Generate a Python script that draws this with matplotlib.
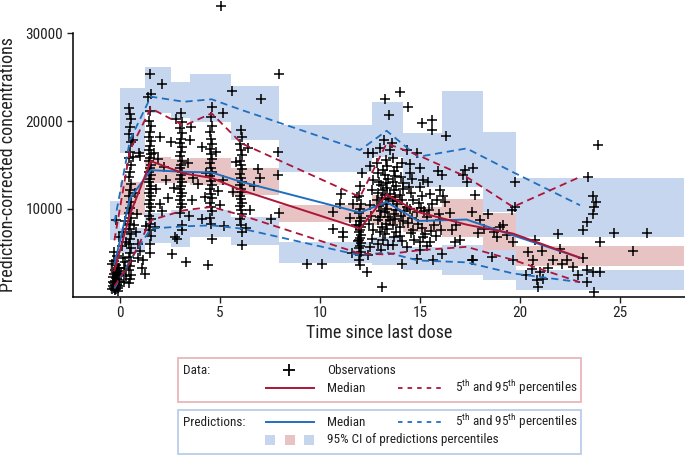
import matplotlib
matplotlib.use("Agg")
import matplotlib.pyplot as plt
import matplotlib.font_manager as fm
from matplotlib.lines import Line2D
from matplotlib.patches import Rectangle

# ---------------- fonts ----------------
_names = {f.name for f in fm.fontManager.ttflist}
FAM = "DejaVu Sans"
for cand in ["Liberation Sans Narrow", "Arial Narrow", "Roboto Condensed", "Liberation Sans", "Roboto"]:
    if cand in _names:
        FAM = cand
        break
plt.rcParams["font.family"] = [FAM, "DejaVu Sans"]
plt.rcParams["mathtext.fontset"] = "custom"
plt.rcParams["mathtext.rm"] = FAM
plt.rcParams["mathtext.it"] = FAM

# ---------------- data ----------------
bin_edges = [-0.5, 0.0, 1.25, 2.55, 3.5, 5.55, 7.95, 12.6, 14.15, 16.1, 18.15, 19.8, 28.2]
bin_times = [-0.28, 0.5, 1.54, 3.2, 4.58, 6.08, 12.0, 13.33, 14.9, 17.33, 19.65, 23.0]

obs_median = [2970, 9370, 15430, 14020, 13520, 12110, 7740, 11620, 9630, 8190, 7170, 4420]
obs_p95 = [6400, 16690, 21450, 19460, 20880, 17450, 11350, 17450, 16110, 13630, 10210, 13630]
obs_p05 = [1140, 3890, 8690, 9830, 10210, 9260, 4880, 4800, 5260, 5660, 4170, 1630]

pred_median = [3660, 11200, 14400, 14210, 14140, 13060, 9570, 10780, 8610, 8770, 6970, 4420]
pred_p95 = [8460, 17830, 22780, 22200, 22480, 21260, 16690, 18890, 15920, 16880, 14170, 10400]
pred_p05 = [910, 4110, 7740, 8000, 8110, 7740, 4690, 5030, 4110, 3890, 2630, 1630]

p95_ci_lo = [6400, 16340, 20910, 20300, 19920, 17830, 14170, 15890, 12490, 12490, 9630, 6780]
p95_ci_hi = [10830, 23770, 26170, 24460, 25370, 24000, 19540, 22140, 18590, 23430, 18780, 13540]
med_ci_lo = [2300, 9260, 12910, 12910, 12690, 11540, 8490, 8110, 7310, 6780, 5260, 3460]
med_ci_hi = [4000, 13030, 15890, 15660, 15740, 14590, 10400, 11540, 10170, 11170, 9490, 5750]
p05_ci_lo = [400, 4910, 6060, 5630, 6780, 5830, 3770, 3540, 2970, 2400, 1830, 770]
p05_ci_hi = [1900, 7770, 9540, 9830, 9830, 9060, 6170, 6740, 5630, 5830, 5260, 2970]

obs_predose = [(-0.4, 800), (-0.35, 1200), (-0.3, 1000), (-0.3, 1500), (-0.25, 900), (-0.25, 1800),
               (-0.2, 1100), (-0.2, 2100), (-0.15, 1300), (-0.15, 2500), (-0.1, 1600), (-0.1, 2900),
               (-0.05, 1900), (-0.05, 3300), (-0.35, 2200), (-0.3, 2600), (-0.25, 3000), (-0.2, 3600),
               (-0.15, 1400), (-0.1, 1000), (-0.4, 3700), (-0.3, 4100), (-0.2, 900), (-0.1, 1200),
               (-0.25, 700), (-0.15, 2000), (-0.05, 2400), (-0.3, 5100), (-0.2, 2800), (-0.1, 3200),
               (-0.35, 1700), (-0.25, 1300), (-0.15, 4600), (-0.05, 6800), (-0.2, 8700), (-0.1, 600)]

obs_absorption = [(0.45, 21500), (0.5, 20800), (0.55, 20200), (0.5, 19300), (0.45, 18500), (0.55, 17600),
                  (0.5, 16500), (0.45, 15800), (0.55, 15000), (0.5, 14200), (0.45, 13600), (0.55, 12800),
                  (0.5, 12100), (0.45, 11400), (0.55, 10800), (0.5, 10100), (0.45, 9500), (0.55, 8900),
                  (0.5, 8300), (0.45, 7700), (0.55, 7100), (0.5, 6600), (0.45, 6000), (0.55, 5500),
                  (0.5, 5000), (0.45, 4500), (0.55, 4000), (0.5, 3500), (0.45, 3000), (0.55, 2500),
                  (0.5, 2000), (0.45, 1500),
                  (0.1, 5800), (0.15, 4400), (0.2, 3200), (0.25, 8600), (0.3, 6200), (0.05, 2600),
                  (0.2, 1700), (0.3, 2300), (0.15, 7400), (0.25, 3900),
                  (0.75, 11800), (0.8, 7300), (0.9, 6000), (1.0, 5200), (0.9, 4400), (1.1, 3300),
                  (1.17, 4190), (1.25, 2590), (0.7, 8200), (0.85, 9400), (1.0, 16000), (0.95, 16400),
                  (1.3, 8000), (0.67, 17830), (0.67, 15930)]

obs_peak = [(1.5, 25400), (1.55, 23100), (1.5, 21200), (1.45, 20000), (1.55, 19400), (1.5, 18800),
            (1.45, 18200), (1.55, 17700), (1.5, 17200), (1.45, 16700), (1.55, 16200), (1.5, 15800),
            (1.45, 15400), (1.55, 15000), (1.5, 14600), (1.45, 14200), (1.55, 13800), (1.5, 13400),
            (1.45, 13000), (1.55, 12600), (1.5, 12200), (1.45, 11800), (1.55, 11400), (1.5, 11000),
            (1.45, 10600), (1.55, 10200), (1.5, 9700), (1.45, 9200), (1.55, 8800), (1.5, 8300),
            (1.45, 7600), (1.55, 6900), (1.5, 6000), (1.5, 5000),
            (2.08, 24230), (1.42, 22780), (2.0, 18200), (2.55, 17630), (1.9, 15700), (2.2, 14800),
            (2.3, 13300), (1.8, 12300), (2.08, 9710), (2.75, 6780), (2.58, 4880), (1.7, 16300),
            (2.4, 11200), (1.75, 7900), (2.0, 10500)]

obs_3h = [(3.05, 20950), (3.1, 19900), (3.0, 19200), (3.1, 18600), (3.05, 18000), (3.0, 17500),
          (3.1, 17000), (3.05, 16500), (3.0, 16000), (3.1, 15500), (3.05, 15000), (3.0, 14600),
          (3.1, 14200), (3.05, 13800), (3.0, 13400), (3.1, 13000), (3.05, 12600), (3.0, 12200),
          (3.1, 11800), (3.05, 11400), (3.0, 11000), (3.1, 10600), (3.05, 10200), (3.0, 9500),
          (3.1, 8200), (3.08, 7540),
          (2.8, 20190), (3.55, 19350), (3.3, 3920), (3.4, 15200), (3.65, 13500), (2.7, 12400),
          (3.45, 9200), (2.85, 6500), (3.5, 17800), (3.9, 12800), (4.08, 17060), (4.08, 8880),
          (3.6, 11000)]

obs_4h = [(4.58, 21640), (4.55, 20500), (4.6, 19400), (4.5, 18700), (4.55, 18000), (4.6, 17400),
          (4.5, 16800), (4.55, 16200), (4.6, 15700), (4.5, 15200), (4.55, 14700), (4.6, 14200),
          (4.5, 13700), (4.55, 13200), (4.6, 12700), (4.5, 12200), (4.55, 11700), (4.6, 11200),
          (4.5, 10700), (4.55, 10200), (4.6, 9700), (4.5, 9000), (4.55, 8300), (4.58, 6590),
          (4.42, 3540), (5.17, 20950), (5.05, 33140), (5.13, 13260), (4.9, 12000), (4.3, 14100),
          (5.0, 10400), (4.8, 16500), (4.25, 11300), (5.2, 8000)]

obs_6h = [(6.05, 19000), (6.1, 18200), (6.0, 17400), (6.05, 16700), (6.1, 16100), (6.0, 15500),
          (6.05, 15000), (6.1, 14500), (6.0, 14000), (6.05, 13500), (6.1, 13100), (6.0, 12700),
          (6.05, 12300), (6.1, 11900), (6.0, 11500), (6.05, 11100), (6.1, 10700), (6.0, 10300),
          (6.05, 9900), (6.1, 9400), (6.0, 8800), (6.05, 8100), (6.1, 7300), (6.08, 5830),
          (5.58, 23460), (5.67, 11920), (6.5, 9830), (7.03, 22480), (6.92, 14480), (7.0, 13450),
          (7.55, 8880), (7.92, 16490), (7.92, 13830), (7.97, 9520), (7.97, 25370), (6.4, 16900),
          (6.7, 12600), (5.8, 15300), (6.3, 7800)]

obs_mid = [(9.33, 3740), (10.08, 3740), (10.63, 9630), (11.05, 11740), (11.0, 10590), (10.63, 7740),
           (11.13, 7350), (11.13, 6780), (11.67, 10590), (11.5, 9000), (11.8, 8200), (11.9, 6300),
           (11.6, 5000), (11.85, 11300)]

obs_12h = [(12.08, 14020), (12.0, 12600), (11.95, 11500), (12.05, 10600), (12.0, 10000), (11.95, 9500),
           (12.05, 9000), (12.0, 8600), (11.95, 8200), (12.05, 7900), (12.0, 7600), (11.95, 7300),
           (12.05, 7000), (12.0, 6700), (11.95, 6400), (12.05, 6100), (12.0, 5800), (11.95, 5500),
           (12.05, 5100), (12.0, 4700), (11.95, 4200), (12.0, 3600), (12.33, 2780)]

obs_cloud = [(12.4, 16300), (12.67, 16300), (13.0, 16880), (13.5, 16690), (13.67, 15740), (14.33, 16690),
             (14.83, 16300), (12.83, 15170), (13.17, 14400), (12.67, 13260), (13.83, 14780), (14.5, 14020),
             (14.17, 12880), (15.0, 12490), (15.17, 13260), (16.0, 12110), (15.83, 10970), (13.17, 12110),
             (13.5, 11740), (12.83, 10970), (13.83, 10590), (14.33, 10210), (14.83, 9630), (15.33, 9060),
             (16.0, 8690), (13.0, 9060), (13.5, 8690), (14.0, 7920), (14.67, 7540), (15.17, 6780),
             (15.5, 6210), (12.67, 7540), (13.17, 6400), (13.67, 5830), (14.33, 5630), (15.0, 5260),
             (12.5, 14900), (12.6, 12100), (12.5, 10400), (12.55, 9200), (12.45, 8300), (12.6, 6600),
             (12.5, 5600), (12.4, 4700),
             (12.9, 14100), (12.95, 13100), (13.05, 12700), (12.9, 11800), (13.1, 11200), (12.95, 10300),
             (13.05, 9800), (12.9, 8700), (13.1, 7900), (13.0, 7300), (12.9, 6000), (13.05, 5300),
             (13.3, 15600), (13.35, 14900), (13.25, 13900), (13.4, 13400), (13.3, 12900), (13.35, 12400),
             (13.25, 11600), (13.4, 11100), (13.3, 10500), (13.35, 10000), (13.25, 9600), (13.4, 9100),
             (13.3, 8300), (13.35, 7700), (13.25, 7100), (13.4, 5900),
             (13.7, 14300), (13.75, 13700), (13.65, 13100), (13.8, 12600), (13.7, 12100), (13.75, 11300),
             (13.65, 10900), (13.8, 9900), (13.7, 9400), (13.75, 8800), (13.65, 8100), (13.8, 7300),
             (13.7, 6800),
             (14.1, 15200), (14.05, 13600), (14.15, 12300), (14.0, 11600), (14.1, 11000), (14.2, 9800),
             (14.05, 9200), (14.15, 8600), (14.0, 6900), (14.1, 6300),
             (14.5, 15100), (14.6, 13400), (14.45, 12500), (14.55, 11800), (14.65, 11000), (14.5, 10000),
             (14.6, 9000), (14.4, 8400), (14.55, 7200), (14.7, 6400),
             (15.0, 14600), (15.1, 11400), (14.95, 10700), (15.05, 10100), (15.2, 9700), (14.9, 8300),
             (15.1, 7800), (15.25, 7100), (15.0, 6200),
             (15.4, 13000), (15.5, 11700), (15.6, 10500), (15.45, 9900), (15.7, 8200), (15.55, 7500),
             (15.8, 6900), (15.35, 5700),
             (15.9, 14300), (16.1, 13900), (15.95, 9400), (16.05, 7600), (16.15, 11500)]

obs_late = [(13.25, 22480), (14.0, 23350), (14.38, 21570), (13.47, 20690), (15.08, 19740), (15.6, 20110),
            (15.6, 18970), (13.2, 17830), (13.6, 17450), (16.3, 18290), (17.25, 14400), (17.67, 14590),
            (17.17, 13830), (17.33, 13060), (16.25, 10780), (16.5, 9500), (16.8, 8200), (17.0, 6400),
            (16.75, 6210), (17.58, 9630), (17.75, 11540), (18.0, 8690), (18.42, 9370), (18.58, 4490),
            (18.83, 6780), (19.17, 8110), (19.33, 6970), (19.58, 9830), (19.67, 6210), (19.67, 4110),
            (19.75, 10210), (19.75, 13060), (17.67, 4110), (17.58, 4110), (16.08, 4880), (15.67, 4110),
            (14.83, 4310), (14.08, 3660), (13.08, 1060), (18.2, 7700), (18.7, 7300), (19.0, 7900),
            (16.6, 7600), (17.9, 7200)]

obs_tail = [(21.92, 7170), (23.17, 7540), (23.33, 8490), (23.67, 11430), (23.8, 10780), (23.7, 10210),
            (23.67, 9450), (24.0, 6210), (24.72, 7240), (26.33, 7240), (25.67, 5180), (23.17, 4420),
            (23.33, 2970), (23.67, 2780), (24.0, 2780), (23.37, 1630), (23.7, 490), (22.67, 3350),
            (22.33, 4110), (22.08, 3740), (21.67, 4110), (21.08, 5180), (20.67, 4110), (20.58, 3170),
            (21.0, 2780), (20.83, 1830), (21.17, 2020), (20.92, 1060), (20.75, 6400), (23.9, 17260),
            (23.42, 13630), (22.0, 5400), (21.4, 3300), (22.9, 2400), (20.4, 5100), (20.3, 2500)]

x_ticks = [0, 5, 10, 15, 20, 25]
y_ticks = [10000, 20000, 30000]

# ---------------- style ----------------
C_BLUE_FILL = "#c6d6ee"
C_PINK_FILL = "#e8c3c3"
C_RED = "#ad1438"
C_BLUE = "#1f6fc0"
DASH = (4.0, 2.6)

W, H = 685, 455
fig = plt.figure(figsize=(W / 100, H / 100), dpi=100)
ax = fig.add_axes([73 / W, (H - 296.5) / H, (W - 73) / W, (296.5 - 33.3) / H])
ax.set_xlim(-2.35, 28.25)
ax.set_ylim(0, 30000)

# CI rectangles per bin
for i in range(len(bin_times)):
    xs = [bin_edges[i], bin_edges[i + 1]]
    ax.fill_between(xs, p95_ci_lo[i], p95_ci_hi[i], color=C_BLUE_FILL, lw=0, zorder=1)
    ax.fill_between(xs, p05_ci_lo[i], p05_ci_hi[i], color=C_BLUE_FILL, lw=0, zorder=1)
    ax.fill_between(xs, med_ci_lo[i], med_ci_hi[i], color=C_PINK_FILL, lw=0, zorder=1)

# observations
all_obs = (obs_predose + obs_absorption + obs_peak + obs_3h + obs_4h + obs_6h + obs_mid
           + obs_12h + obs_cloud + obs_late + obs_tail)
ot = [p[0] for p in all_obs]
oc = [p[1] for p in all_obs]
ax.plot(ot, oc, linestyle="none", marker="+", color="black", ms=7.5, mew=1.1,
        zorder=3, clip_on=False)

# lines
ax.plot(bin_times, pred_median, color=C_BLUE, lw=1.4, zorder=4)
ax.plot(bin_times, pred_p95, color=C_BLUE, lw=1.3, dashes=DASH, zorder=4)
ax.plot(bin_times, pred_p05, color=C_BLUE, lw=1.3, dashes=DASH, zorder=4)
ax.plot(bin_times, obs_median, color=C_RED, lw=1.4, zorder=5)
ax.plot(bin_times, obs_p95, color=C_RED, lw=1.3, dashes=DASH, zorder=5)
ax.plot(bin_times, obs_p05, color=C_RED, lw=1.3, dashes=DASH, zorder=5)

# axes styling
for s in ["top", "right"]:
    ax.spines[s].set_visible(False)
for s in ["left", "bottom"]:
    ax.spines[s].set_linewidth(1.1)
ax.set_xticks(x_ticks)
ax.set_yticks(y_ticks)
ax.tick_params(direction="out", length=4, width=1.0, labelsize=11, pad=3, colors="#222222")
ax.set_xlabel("Time since last dose", fontsize=13, labelpad=3, color="#222222")
ax.set_ylabel("Prediction-corrected concentrations", fontsize=13, labelpad=6, color="#222222")

# ---------------- legend (figure coordinates) ----------------
def fx(px):
    return px / W


def fy(py):
    return 1 - py / H


fig.add_artist(Rectangle((fx(178), fy(402)), fx(581) - fx(178), fy(358) - fy(402),
                         transform=fig.transFigure, fill=False, edgecolor="#ebb6ba", lw=1.3))
fig.add_artist(Rectangle((fx(178), fy(454)), fx(581) - fx(178), fy(410) - fy(454),
                         transform=fig.transFigure, fill=False, edgecolor="#b9cdea", lw=1.3))

LFS = 9.5
TC = "#222222"
pct_label = r"5$^{\mathrm{th}}$ and 95$^{\mathrm{th}}$ percentiles"

fig.text(fx(183), fy(370), "Data:", fontsize=LFS, va="center", ha="left", color=TC)
fig.add_artist(Line2D([fx(289)], [fy(370)], marker="+", color="black", ms=8, mew=1.3,
                      linestyle="none", transform=fig.transFigure))
fig.text(fx(327), fy(370), "Observations", fontsize=LFS, va="center", ha="left", color=TC)
fig.add_artist(Line2D([fx(266), fx(314)], [fy(388), fy(388)], color=C_RED, lw=1.4,
                      transform=fig.transFigure))
fig.text(fx(327), fy(388), "Median", fontsize=LFS, va="center", ha="left", color=TC)
fig.add_artist(Line2D([fx(398), fx(445)], [fy(388), fy(388)], color=C_RED, lw=1.3,
                      dashes=(2.5, 2.8), transform=fig.transFigure))
fig.text(fx(455), fy(388), pct_label, fontsize=LFS, va="center", ha="left", color=TC)

fig.text(fx(183), fy(422), "Predictions:", fontsize=LFS, va="center", ha="left", color=TC)
fig.add_artist(Line2D([fx(266), fx(314)], [fy(422), fy(422)], color=C_BLUE, lw=1.4,
                      transform=fig.transFigure))
fig.text(fx(327), fy(422), "Median", fontsize=LFS, va="center", ha="left", color=TC)
fig.add_artist(Line2D([fx(398), fx(445)], [fy(422), fy(422)], color=C_BLUE, lw=1.3,
                      dashes=(2.5, 2.8), transform=fig.transFigure))
fig.text(fx(455), fy(422), pct_label, fontsize=LFS, va="center", ha="left", color=TC)
for cx, col in [(270, C_BLUE_FILL), (289.5, C_PINK_FILL), (308.5, C_BLUE_FILL)]:
    fig.add_artist(Rectangle((fx(cx - 5), fy(445)), fx(10), fy(435) - fy(445),
                             transform=fig.transFigure, color=col, lw=0))
fig.text(fx(327), fy(440), "95% CI of predictions percentiles", fontsize=LFS, va="center",
         ha="left", color=TC)

fig.savefig("out.png", dpi=100)
